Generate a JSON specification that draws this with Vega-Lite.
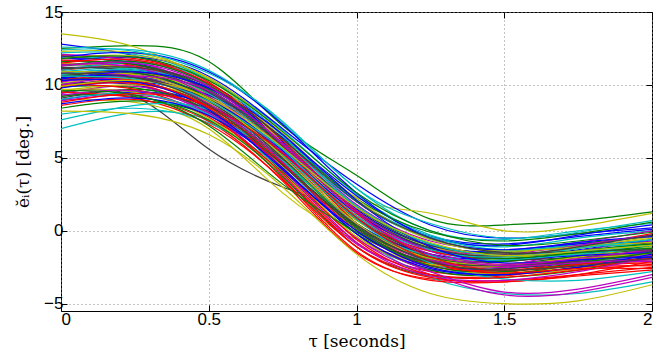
{
"$schema":"https://vega.github.io/schema/vega-lite/v6.json",
"width":591,"height":299,
"autosize":{"type":"none"},
"padding":{"left":61,"top":12,"right":16,"bottom":47},
"background":"white",
"config":{"view":{"stroke":"#000","strokeWidth":1},
 "axis":{"labelFont":"Liberation Sans","labelFontSize":17,"labelColor":"#000","titleFont":"DejaVu Serif, DejaVu Sans","titleFontSize":17,"titleFontWeight":"normal","titleColor":"#000","domainColor":"#000","tickColor":"#000","tickSize":-6,"labelPadding":4}},
"data":{"values":[
{"k":1,"t":0,"v":11.8},{"k":1,"t":0.25,"v":11.5},{"k":1,"t":0.5,"v":9.6},{"k":1,"t":0.75,"v":5.8},{"k":1,"t":1,"v":0.9},{"k":1,"t":1.25,"v":-1.7},{"k":1,"t":1.5,"v":-2.0},{"k":1,"t":1.75,"v":-1.6},{"k":1,"t":2,"v":-1.0},
{"k":2,"t":0,"v":12.5},{"k":2,"t":0.25,"v":12.7},{"k":2,"t":0.5,"v":11.6},{"k":2,"t":0.75,"v":7.2},{"k":2,"t":1,"v":3.8},{"k":2,"t":1.25,"v":0.8},{"k":2,"t":1.5,"v":0.4},{"k":2,"t":1.75,"v":0.7},{"k":2,"t":2,"v":1.3},
{"k":3,"t":0,"v":10.2},{"k":3,"t":0.25,"v":10.8},{"k":3,"t":0.5,"v":8.9},{"k":3,"t":0.75,"v":4.1},{"k":3,"t":1,"v":-0.8},{"k":3,"t":1.25,"v":-2.8},{"k":3,"t":1.5,"v":-2.9},{"k":3,"t":1.75,"v":-2.0},{"k":3,"t":2,"v":-1.6},
{"k":4,"t":0,"v":7.0},{"k":4,"t":0.25,"v":8.1},{"k":4,"t":0.5,"v":7.6},{"k":4,"t":0.75,"v":4.6},{"k":4,"t":1,"v":0.7},{"k":4,"t":1.25,"v":-1.4},{"k":4,"t":1.5,"v":-2.0},{"k":4,"t":1.75,"v":-1.5},{"k":4,"t":2,"v":-1.1},
{"k":5,"t":0,"v":10.6},{"k":5,"t":0.25,"v":10.1},{"k":5,"t":0.5,"v":8.0},{"k":5,"t":0.75,"v":4.9},{"k":5,"t":1,"v":0.8},{"k":5,"t":1.25,"v":-1.8},{"k":5,"t":1.5,"v":-2.4},{"k":5,"t":1.75,"v":-2.0},{"k":5,"t":2,"v":-1.4},
{"k":6,"t":0,"v":13.5},{"k":6,"t":0.25,"v":12.6},{"k":6,"t":0.5,"v":10.2},{"k":6,"t":0.75,"v":6.4},{"k":6,"t":1,"v":2.3},{"k":6,"t":1.25,"v":1.2},{"k":6,"t":1.5,"v":0.0},{"k":6,"t":1.75,"v":0.3},{"k":6,"t":2,"v":1.2},
{"k":7,"t":0,"v":9.5},{"k":7,"t":0.25,"v":9.2},{"k":7,"t":0.5,"v":5.6},{"k":7,"t":0.75,"v":3.0},{"k":7,"t":1,"v":0.9},{"k":7,"t":1.25,"v":-1.9},{"k":7,"t":1.5,"v":-2.3},{"k":7,"t":1.75,"v":-1.8},{"k":7,"t":2,"v":-1.4},
{"k":8,"t":0,"v":12.8},{"k":8,"t":0.25,"v":12.0},{"k":8,"t":0.5,"v":10.1},{"k":8,"t":0.75,"v":6.6},{"k":8,"t":1,"v":2.0},{"k":8,"t":1.25,"v":-0.4},{"k":8,"t":1.5,"v":-0.9},{"k":8,"t":1.75,"v":-0.4},{"k":8,"t":2,"v":0.1},
{"k":9,"t":0,"v":9.2},{"k":9,"t":0.25,"v":9.7},{"k":9,"t":0.5,"v":8.4},{"k":9,"t":0.75,"v":4.0},{"k":9,"t":1,"v":-0.2},{"k":9,"t":1.25,"v":-2.1},{"k":9,"t":1.5,"v":-2.4},{"k":9,"t":1.75,"v":-2.0},{"k":9,"t":2,"v":-1.3},
{"k":10,"t":0,"v":11.0},{"k":10,"t":0.25,"v":11.2},{"k":10,"t":0.5,"v":9.5},{"k":10,"t":0.75,"v":5.2},{"k":10,"t":1,"v":0.2},{"k":10,"t":1.25,"v":-2.5},{"k":10,"t":1.5,"v":-3.0},{"k":10,"t":1.75,"v":-2.5},{"k":10,"t":2,"v":-1.9},
{"k":11,"t":0,"v":12.2},{"k":11,"t":0.25,"v":12.1},{"k":11,"t":0.5,"v":10.4},{"k":11,"t":0.75,"v":6.9},{"k":11,"t":1,"v":2.5},{"k":11,"t":1.25,"v":-0.3},{"k":11,"t":1.5,"v":-1.1},{"k":11,"t":1.75,"v":-0.5},{"k":11,"t":2,"v":0.0},
{"k":12,"t":0,"v":9.8},{"k":12,"t":0.25,"v":10.4},{"k":12,"t":0.5,"v":8.7},{"k":12,"t":0.75,"v":4.4},{"k":12,"t":1,"v":-0.5},{"k":12,"t":1.25,"v":-2.4},{"k":12,"t":1.5,"v":-2.4},{"k":12,"t":1.75,"v":-1.4},{"k":12,"t":2,"v":-0.7},
{"k":13,"t":0,"v":9.0},{"k":13,"t":0.25,"v":8.8},{"k":13,"t":0.5,"v":7.0},{"k":13,"t":0.75,"v":2.6},{"k":13,"t":1,"v":-0.6},{"k":13,"t":1.25,"v":-2.4},{"k":13,"t":1.5,"v":-3.0},{"k":13,"t":1.75,"v":-2.6},{"k":13,"t":2,"v":-1.9},
{"k":14,"t":0,"v":10.9},{"k":14,"t":0.25,"v":10.6},{"k":14,"t":0.5,"v":8.8},{"k":14,"t":0.75,"v":5.1},{"k":14,"t":1,"v":1.1},{"k":14,"t":1.25,"v":-1.2},{"k":14,"t":1.5,"v":-1.8},{"k":14,"t":1.75,"v":-1.4},{"k":14,"t":2,"v":-0.9},
{"k":15,"t":0,"v":10.1},{"k":15,"t":0.25,"v":10.0},{"k":15,"t":0.5,"v":8.2},{"k":15,"t":0.75,"v":4.5},{"k":15,"t":1,"v":0.5},{"k":15,"t":1.25,"v":-1.6},{"k":15,"t":1.5,"v":-1.9},{"k":15,"t":1.75,"v":-1.3},{"k":15,"t":2,"v":-0.6},
{"k":16,"t":0,"v":11.4},{"k":16,"t":0.25,"v":11.0},{"k":16,"t":0.5,"v":9.1},{"k":16,"t":0.75,"v":5.6},{"k":16,"t":1,"v":1.6},{"k":16,"t":1.25,"v":-0.9},{"k":16,"t":1.5,"v":-1.5},{"k":16,"t":1.75,"v":-0.9},{"k":16,"t":2,"v":-0.4},
{"k":17,"t":0,"v":8.6},{"k":17,"t":0.25,"v":9.0},{"k":17,"t":0.5,"v":7.5},{"k":17,"t":0.75,"v":3.4},{"k":17,"t":1,"v":-1.5},{"k":17,"t":1.25,"v":-3.3},{"k":17,"t":1.5,"v":-3.4},{"k":17,"t":1.75,"v":-3.0},{"k":17,"t":2,"v":-2.5},
{"k":18,"t":0,"v":11.9},{"k":18,"t":0.25,"v":11.7},{"k":18,"t":0.5,"v":10.0},{"k":18,"t":0.75,"v":6.2},{"k":18,"t":1,"v":1.7},{"k":18,"t":1.25,"v":-1.1},{"k":18,"t":1.5,"v":-1.7},{"k":18,"t":1.75,"v":-1.1},{"k":18,"t":2,"v":-0.3},
{"k":19,"t":0,"v":9.4},{"k":19,"t":0.25,"v":9.9},{"k":19,"t":0.5,"v":8.1},{"k":19,"t":0.75,"v":3.8},{"k":19,"t":1,"v":-0.9},{"k":19,"t":1.25,"v":-2.7},{"k":19,"t":1.5,"v":-2.6},{"k":19,"t":1.75,"v":-1.9},{"k":19,"t":2,"v":-1.4},
{"k":20,"t":0,"v":10.5},{"k":20,"t":0.25,"v":10.9},{"k":20,"t":0.5,"v":9.2},{"k":20,"t":0.75,"v":5.3},{"k":20,"t":1,"v":0.7},{"k":20,"t":1.25,"v":-1.4},{"k":20,"t":1.5,"v":-1.6},{"k":20,"t":1.75,"v":-1.0},{"k":20,"t":2,"v":-0.9},
{"k":21,"t":0,"v":11.3},{"k":21,"t":0.25,"v":11.4},{"k":21,"t":0.5,"v":9.7},{"k":21,"t":0.75,"v":5.9},{"k":21,"t":1,"v":1.3},{"k":21,"t":1.25,"v":-1.3},{"k":21,"t":1.5,"v":-2.0},{"k":21,"t":1.75,"v":-1.8},{"k":21,"t":2,"v":-1.6},
{"k":22,"t":0,"v":9.0},{"k":22,"t":0.25,"v":9.5},{"k":22,"t":0.5,"v":8.6},{"k":22,"t":0.75,"v":5.0},{"k":22,"t":1,"v":0.3},{"k":22,"t":1.25,"v":-2.3},{"k":22,"t":1.5,"v":-2.6},{"k":22,"t":1.75,"v":-2.2},{"k":22,"t":2,"v":-1.9},
{"k":23,"t":0,"v":10.7},{"k":23,"t":0.25,"v":10.3},{"k":23,"t":0.5,"v":8.5},{"k":23,"t":0.75,"v":4.8},{"k":23,"t":1,"v":0.5},{"k":23,"t":1.25,"v":-2.0},{"k":23,"t":1.5,"v":-2.4},{"k":23,"t":1.75,"v":-1.8},{"k":23,"t":2,"v":-1.2},
{"k":24,"t":0,"v":12.0},{"k":24,"t":0.25,"v":11.8},{"k":24,"t":0.5,"v":10.2},{"k":24,"t":0.75,"v":5.8},{"k":24,"t":1,"v":0.5},{"k":24,"t":1.25,"v":-2.3},{"k":24,"t":1.5,"v":-2.7},{"k":24,"t":1.75,"v":-2.3},{"k":24,"t":2,"v":-2.1},
{"k":25,"t":0,"v":8.0},{"k":25,"t":0.25,"v":8.4},{"k":25,"t":0.5,"v":7.4},{"k":25,"t":0.75,"v":4.2},{"k":25,"t":1,"v":-0.2},{"k":25,"t":1.25,"v":-3.2},{"k":25,"t":1.5,"v":-4.3},{"k":25,"t":1.75,"v":-4.3},{"k":25,"t":2,"v":-3.5},
{"k":26,"t":0,"v":11.1},{"k":26,"t":0.25,"v":11.3},{"k":26,"t":0.5,"v":9.9},{"k":26,"t":0.75,"v":6.3},{"k":26,"t":1,"v":1.8},{"k":26,"t":1.25,"v":-0.7},{"k":26,"t":1.5,"v":-1.3},{"k":26,"t":1.75,"v":-0.8},{"k":26,"t":2,"v":0.0},
{"k":27,"t":0,"v":9.7},{"k":27,"t":0.25,"v":9.5},{"k":27,"t":0.5,"v":7.7},{"k":27,"t":0.75,"v":3.9},{"k":27,"t":1,"v":-0.4},{"k":27,"t":1.25,"v":-2.6},{"k":27,"t":1.5,"v":-2.9},{"k":27,"t":1.75,"v":-2.5},{"k":27,"t":2,"v":-2.0},
{"k":28,"t":0,"v":10.4},{"k":28,"t":0.25,"v":10.7},{"k":28,"t":0.5,"v":9.0},{"k":28,"t":0.75,"v":5.4},{"k":28,"t":1,"v":0.9},{"k":28,"t":1.25,"v":-1.6},{"k":28,"t":1.5,"v":-2.1},{"k":28,"t":1.75,"v":-1.5},{"k":28,"t":2,"v":-0.8},
{"k":29,"t":0,"v":11.6},{"k":29,"t":0.25,"v":11.9},{"k":29,"t":0.5,"v":10.6},{"k":29,"t":0.75,"v":7.0},{"k":29,"t":1,"v":3.2},{"k":29,"t":1.25,"v":0.4},{"k":29,"t":1.5,"v":-0.5},{"k":29,"t":1.75,"v":-0.2},{"k":29,"t":2,"v":0.2},
{"k":30,"t":0,"v":9.9},{"k":30,"t":0.25,"v":9.8},{"k":30,"t":0.5,"v":8.3},{"k":30,"t":0.75,"v":4.7},{"k":30,"t":1,"v":0.1},{"k":30,"t":1.25,"v":-2.2},{"k":30,"t":1.5,"v":-2.4},{"k":30,"t":1.75,"v":-1.7},{"k":30,"t":2,"v":-1.0},
{"k":31,"t":0,"v":10.3},{"k":31,"t":0.25,"v":10.1},{"k":31,"t":0.5,"v":8.0},{"k":31,"t":0.75,"v":3.6},{"k":31,"t":1,"v":-1.4},{"k":31,"t":1.25,"v":-3.4},{"k":31,"t":1.5,"v":-3.5},{"k":31,"t":1.75,"v":-3.0},{"k":31,"t":2,"v":-2.1},
{"k":32,"t":0,"v":12.4},{"k":32,"t":0.25,"v":12.4},{"k":32,"t":0.5,"v":11.0},{"k":32,"t":0.75,"v":7.4},{"k":32,"t":1,"v":2.9},{"k":32,"t":1.25,"v":0.0},{"k":32,"t":1.5,"v":-0.6},{"k":32,"t":1.75,"v":0.0},{"k":32,"t":2,"v":0.5},
{"k":33,"t":0,"v":8.9},{"k":33,"t":0.25,"v":9.3},{"k":33,"t":0.5,"v":8.0},{"k":33,"t":0.75,"v":4.3},{"k":33,"t":1,"v":-0.5},{"k":33,"t":1.25,"v":-3.0},{"k":33,"t":1.5,"v":-4.4},{"k":33,"t":1.75,"v":-4.2},{"k":33,"t":2,"v":-3.2},
{"k":34,"t":0,"v":11.5},{"k":34,"t":0.25,"v":11.1},{"k":34,"t":0.5,"v":9.3},{"k":34,"t":0.75,"v":5.5},{"k":34,"t":1,"v":1.4},{"k":34,"t":1.25,"v":-1.1},{"k":34,"t":1.5,"v":-1.6},{"k":34,"t":1.75,"v":-1.2},{"k":34,"t":2,"v":-0.5},
{"k":35,"t":0,"v":10.0},{"k":35,"t":0.25,"v":10.2},{"k":35,"t":0.5,"v":8.6},{"k":35,"t":0.75,"v":4.9},{"k":35,"t":1,"v":0.5},{"k":35,"t":1.25,"v":-1.8},{"k":35,"t":1.5,"v":-2.1},{"k":35,"t":1.75,"v":-1.6},{"k":35,"t":2,"v":-1.3},
{"k":36,"t":0,"v":10.8},{"k":36,"t":0.25,"v":11.0},{"k":36,"t":0.5,"v":9.8},{"k":36,"t":0.75,"v":6.1},{"k":36,"t":1,"v":1.5},{"k":36,"t":1.25,"v":-1.0},{"k":36,"t":1.5,"v":-1.4},{"k":36,"t":1.75,"v":-0.9},{"k":36,"t":2,"v":-0.8},
{"k":37,"t":0,"v":9.3},{"k":37,"t":0.25,"v":9.2},{"k":37,"t":0.5,"v":7.6},{"k":37,"t":0.75,"v":3.7},{"k":37,"t":1,"v":-1.1},{"k":37,"t":1.25,"v":-3.1},{"k":37,"t":1.5,"v":-3.2},{"k":37,"t":1.75,"v":-2.7},{"k":37,"t":2,"v":-1.7},
{"k":38,"t":0,"v":11.7},{"k":38,"t":0.25,"v":11.3},{"k":38,"t":0.5,"v":9.4},{"k":38,"t":0.75,"v":5.7},{"k":38,"t":1,"v":1.0},{"k":38,"t":1.25,"v":-1.4},{"k":38,"t":1.5,"v":-1.8},{"k":38,"t":1.75,"v":-1.1},{"k":38,"t":2,"v":-0.2},
{"k":39,"t":0,"v":10.9},{"k":39,"t":0.25,"v":11.1},{"k":39,"t":0.5,"v":9.6},{"k":39,"t":0.75,"v":6.0},{"k":39,"t":1,"v":2.0},{"k":39,"t":1.25,"v":-0.6},{"k":39,"t":1.5,"v":-1.4},{"k":39,"t":1.75,"v":-1.1},{"k":39,"t":2,"v":-1.0},
{"k":40,"t":0,"v":12.1},{"k":40,"t":0.25,"v":11.6},{"k":40,"t":0.5,"v":9.5},{"k":40,"t":0.75,"v":5.2},{"k":40,"t":1,"v":0.5},{"k":40,"t":1.25,"v":-2.0},{"k":40,"t":1.5,"v":-2.5},{"k":40,"t":1.75,"v":-2.0},{"k":40,"t":2,"v":-1.7},
{"k":41,"t":0,"v":9.6},{"k":41,"t":0.25,"v":10.0},{"k":41,"t":0.5,"v":8.8},{"k":41,"t":0.75,"v":5.0},{"k":41,"t":1,"v":0.2},{"k":41,"t":1.25,"v":-1.9},{"k":41,"t":1.5,"v":-1.9},{"k":41,"t":1.75,"v":-1.2},{"k":41,"t":2,"v":-0.4},
{"k":42,"t":0,"v":11.2},{"k":42,"t":0.25,"v":10.9},{"k":42,"t":0.5,"v":9.0},{"k":42,"t":0.75,"v":5.3},{"k":42,"t":1,"v":0.8},{"k":42,"t":1.25,"v":-1.8},{"k":42,"t":1.5,"v":-2.3},{"k":42,"t":1.75,"v":-1.9},{"k":42,"t":2,"v":-1.8},
{"k":43,"t":0,"v":10.5},{"k":43,"t":0.25,"v":10.6},{"k":43,"t":0.5,"v":9.3},{"k":43,"t":0.75,"v":6.4},{"k":43,"t":1,"v":2.4},{"k":43,"t":1.25,"v":-0.4},{"k":43,"t":1.5,"v":-1.0},{"k":43,"t":1.75,"v":-0.3},{"k":43,"t":2,"v":0.4},
{"k":44,"t":0,"v":8.4},{"k":44,"t":0.25,"v":8.9},{"k":44,"t":0.5,"v":7.9},{"k":44,"t":0.75,"v":4.5},{"k":44,"t":1,"v":-0.2},{"k":44,"t":1.25,"v":-2.7},{"k":44,"t":1.5,"v":-3.0},{"k":44,"t":1.75,"v":-2.3},{"k":44,"t":2,"v":-1.9},
{"k":45,"t":0,"v":10.0},{"k":45,"t":0.25,"v":9.7},{"k":45,"t":0.5,"v":7.8},{"k":45,"t":0.75,"v":3.9},{"k":45,"t":1,"v":-1.1},{"k":45,"t":1.25,"v":-3.2},{"k":45,"t":1.5,"v":-3.5},{"k":45,"t":1.75,"v":-3.1},{"k":45,"t":2,"v":-2.7},
{"k":46,"t":0,"v":11.0},{"k":46,"t":0.25,"v":11.5},{"k":46,"t":0.5,"v":10.3},{"k":46,"t":0.75,"v":6.5},{"k":46,"t":1,"v":2.1},{"k":46,"t":1.25,"v":-0.4},{"k":46,"t":1.5,"v":-1.3},{"k":46,"t":1.75,"v":-1.0},{"k":46,"t":2,"v":-1.0},
{"k":47,"t":0,"v":10.2},{"k":47,"t":0.25,"v":10.5},{"k":47,"t":0.5,"v":8.9},{"k":47,"t":0.75,"v":5.0},{"k":47,"t":1,"v":0.4},{"k":47,"t":1.25,"v":-2.1},{"k":47,"t":1.5,"v":-2.5},{"k":47,"t":1.75,"v":-2.2},{"k":47,"t":2,"v":-2.1},
{"k":48,"t":0,"v":12.3},{"k":48,"t":0.25,"v":12.2},{"k":48,"t":0.5,"v":10.4},{"k":48,"t":0.75,"v":6.0},{"k":48,"t":1,"v":1.1},{"k":48,"t":1.25,"v":-1.2},{"k":48,"t":1.5,"v":-1.8},{"k":48,"t":1.75,"v":-1.6},{"k":48,"t":2,"v":-1.6},
{"k":49,"t":0,"v":9.1},{"k":49,"t":0.25,"v":9.6},{"k":49,"t":0.5,"v":8.2},{"k":49,"t":0.75,"v":4.6},{"k":49,"t":1,"v":0.2},{"k":49,"t":1.25,"v":-2.2},{"k":49,"t":1.5,"v":-2.6},{"k":49,"t":1.75,"v":-2.1},{"k":49,"t":2,"v":-1.5},
{"k":50,"t":0,"v":11.9},{"k":50,"t":0.25,"v":12.2},{"k":50,"t":0.5,"v":10.9},{"k":50,"t":0.75,"v":7.3},{"k":50,"t":1,"v":2.6},{"k":50,"t":1.25,"v":-0.5},{"k":50,"t":1.5,"v":-1.3},{"k":50,"t":1.75,"v":-0.8},{"k":50,"t":2,"v":-0.4},
{"k":51,"t":0,"v":10.6},{"k":51,"t":0.25,"v":10.8},{"k":51,"t":0.5,"v":9.1},{"k":51,"t":0.75,"v":5.0},{"k":51,"t":1,"v":0.3},{"k":51,"t":1.25,"v":-1.9},{"k":51,"t":1.5,"v":-2.1},{"k":51,"t":1.75,"v":-1.4},{"k":51,"t":2,"v":-0.9},
{"k":52,"t":0,"v":9.5},{"k":52,"t":0.25,"v":9.1},{"k":52,"t":0.5,"v":7.3},{"k":52,"t":0.75,"v":3.5},{"k":52,"t":1,"v":-1.1},{"k":52,"t":1.25,"v":-3.0},{"k":52,"t":1.5,"v":-3.1},{"k":52,"t":1.75,"v":-2.5},{"k":52,"t":2,"v":-2.4},
{"k":53,"t":0,"v":7.6},{"k":53,"t":0.25,"v":8.6},{"k":53,"t":0.5,"v":8.3},{"k":53,"t":0.75,"v":5.2},{"k":53,"t":1,"v":0.8},{"k":53,"t":1.25,"v":-2.2},{"k":53,"t":1.5,"v":-3.3},{"k":53,"t":1.75,"v":-3.4},{"k":53,"t":2,"v":-2.8},
{"k":54,"t":0,"v":11.4},{"k":54,"t":0.25,"v":11.2},{"k":54,"t":0.5,"v":9.2},{"k":54,"t":0.75,"v":5.4},{"k":54,"t":1,"v":1.0},{"k":54,"t":1.25,"v":-1.2},{"k":54,"t":1.5,"v":-1.6},{"k":54,"t":1.75,"v":-1.0},{"k":54,"t":2,"v":-0.3},
{"k":55,"t":0,"v":10.1},{"k":55,"t":0.25,"v":10.4},{"k":55,"t":0.5,"v":8.6},{"k":55,"t":0.75,"v":4.4},{"k":55,"t":1,"v":-0.4},{"k":55,"t":1.25,"v":-2.3},{"k":55,"t":1.5,"v":-2.4},{"k":55,"t":1.75,"v":-1.8},{"k":55,"t":2,"v":-1.1},
{"k":56,"t":0,"v":12.0},{"k":56,"t":0.25,"v":11.4},{"k":56,"t":0.5,"v":9.6},{"k":56,"t":0.75,"v":6.0},{"k":56,"t":1,"v":1.6},{"k":56,"t":1.25,"v":-1.0},{"k":56,"t":1.5,"v":-1.6},{"k":56,"t":1.75,"v":-1.4},{"k":56,"t":2,"v":-1.4},
{"k":57,"t":0,"v":9.8},{"k":57,"t":0.25,"v":10.2},{"k":57,"t":0.5,"v":9.0},{"k":57,"t":0.75,"v":5.5},{"k":57,"t":1,"v":1.2},{"k":57,"t":1.25,"v":-1.2},{"k":57,"t":1.5,"v":-1.9},{"k":57,"t":1.75,"v":-1.7},{"k":57,"t":2,"v":-1.5},
{"k":58,"t":0,"v":11.3},{"k":58,"t":0.25,"v":11.6},{"k":58,"t":0.5,"v":10.0},{"k":58,"t":0.75,"v":6.3},{"k":58,"t":1,"v":2.2},{"k":58,"t":1.25,"v":-0.1},{"k":58,"t":1.5,"v":-0.7},{"k":58,"t":1.75,"v":-0.2},{"k":58,"t":2,"v":0.6},
{"k":59,"t":0,"v":10.4},{"k":59,"t":0.25,"v":10.3},{"k":59,"t":0.5,"v":8.4},{"k":59,"t":0.75,"v":4.3},{"k":59,"t":1,"v":-0.6},{"k":59,"t":1.25,"v":-3.0},{"k":59,"t":1.5,"v":-3.2},{"k":59,"t":1.75,"v":-2.7},{"k":59,"t":2,"v":-2.3},
{"k":60,"t":0,"v":9.0},{"k":60,"t":0.25,"v":9.4},{"k":60,"t":0.5,"v":8.0},{"k":60,"t":0.75,"v":4.8},{"k":60,"t":1,"v":0.5},{"k":60,"t":1.25,"v":-1.7},{"k":60,"t":1.5,"v":-2.0},{"k":60,"t":1.75,"v":-1.6},{"k":60,"t":2,"v":-1.2},
{"k":61,"t":0,"v":10.8},{"k":61,"t":0.25,"v":10.6},{"k":61,"t":0.5,"v":8.7},{"k":61,"t":0.75,"v":4.7},{"k":61,"t":1,"v":-0.2},{"k":61,"t":1.25,"v":-2.8},{"k":61,"t":1.5,"v":-4.2},{"k":61,"t":1.75,"v":-4.0},{"k":61,"t":2,"v":-3.0},
{"k":62,"t":0,"v":11.8},{"k":62,"t":0.25,"v":12.0},{"k":62,"t":0.5,"v":10.5},{"k":62,"t":0.75,"v":6.7},{"k":62,"t":1,"v":2.2},{"k":62,"t":1.25,"v":-0.6},{"k":62,"t":1.5,"v":-1.4},{"k":62,"t":1.75,"v":-1.1},{"k":62,"t":2,"v":-0.8},
{"k":63,"t":0,"v":10.3},{"k":63,"t":0.25,"v":10.5},{"k":63,"t":0.5,"v":8.9},{"k":63,"t":0.75,"v":5.0},{"k":63,"t":1,"v":0.5},{"k":63,"t":1.25,"v":-1.9},{"k":63,"t":1.5,"v":-2.4},{"k":63,"t":1.75,"v":-2.1},{"k":63,"t":2,"v":-1.9},
{"k":64,"t":0,"v":8.7},{"k":64,"t":0.25,"v":9.1},{"k":64,"t":0.5,"v":7.9},{"k":64,"t":0.75,"v":4.3},{"k":64,"t":1,"v":-0.2},{"k":64,"t":1.25,"v":-2.6},{"k":64,"t":1.5,"v":-3.0},{"k":64,"t":1.75,"v":-2.5},{"k":64,"t":2,"v":-1.8},
{"k":65,"t":0,"v":11.6},{"k":65,"t":0.25,"v":11.4},{"k":65,"t":0.5,"v":9.7},{"k":65,"t":0.75,"v":5.9},{"k":65,"t":1,"v":1.4},{"k":65,"t":1.25,"v":-1.2},{"k":65,"t":1.5,"v":-1.9},{"k":65,"t":1.75,"v":-1.5},{"k":65,"t":2,"v":-1.2},
{"k":66,"t":0,"v":9.9},{"k":66,"t":0.25,"v":10.1},{"k":66,"t":0.5,"v":8.5},{"k":66,"t":0.75,"v":4.6},{"k":66,"t":1,"v":0.0},{"k":66,"t":1.25,"v":-2.4},{"k":66,"t":1.5,"v":-2.8},{"k":66,"t":1.75,"v":-2.4},{"k":66,"t":2,"v":-2.2},
{"k":67,"t":0,"v":10.7},{"k":67,"t":0.25,"v":11.0},{"k":67,"t":0.5,"v":9.4},{"k":67,"t":0.75,"v":5.6},{"k":67,"t":1,"v":1.0},{"k":67,"t":1.25,"v":-1.3},{"k":67,"t":1.5,"v":-1.8},{"k":67,"t":1.75,"v":-1.2},{"k":67,"t":2,"v":-0.6},
{"k":68,"t":0,"v":9.3},{"k":68,"t":0.25,"v":9.6},{"k":68,"t":0.5,"v":8.1},{"k":68,"t":0.75,"v":4.2},{"k":68,"t":1,"v":-0.8},{"k":68,"t":1.25,"v":-3.1},{"k":68,"t":1.5,"v":-3.4},{"k":68,"t":1.75,"v":-2.8},{"k":68,"t":2,"v":-1.8},
{"k":69,"t":0,"v":10.9},{"k":69,"t":0.25,"v":10.7},{"k":69,"t":0.5,"v":9.0},{"k":69,"t":0.75,"v":5.1},{"k":69,"t":1,"v":0.5},{"k":69,"t":1.25,"v":-1.9},{"k":69,"t":1.5,"v":-2.3},{"k":69,"t":1.75,"v":-1.9},{"k":69,"t":2,"v":-1.6},
{"k":70,"t":0,"v":10.6},{"k":70,"t":0.25,"v":10.9},{"k":70,"t":0.5,"v":9.5},{"k":70,"t":0.75,"v":5.8},{"k":70,"t":1,"v":1.4},{"k":70,"t":1.25,"v":-1.2},{"k":70,"t":1.5,"v":-1.7},{"k":70,"t":1.75,"v":-1.1},{"k":70,"t":2,"v":-0.3},
{"k":71,"t":0,"v":10.4},{"k":71,"t":0.25,"v":10.9},{"k":71,"t":0.5,"v":9.8},{"k":71,"t":0.75,"v":6.6},{"k":71,"t":1,"v":2.1},{"k":71,"t":1.25,"v":-1.1},{"k":71,"t":1.5,"v":-2.2},{"k":71,"t":1.75,"v":-2.0},{"k":71,"t":2,"v":-1.8},
{"k":72,"t":0,"v":9.6},{"k":72,"t":0.25,"v":9.3},{"k":72,"t":0.5,"v":7.2},{"k":72,"t":0.75,"v":3.2},{"k":72,"t":1,"v":-0.1},{"k":72,"t":1.25,"v":-2.4},{"k":72,"t":1.5,"v":-2.8},{"k":72,"t":1.75,"v":-2.2},{"k":72,"t":2,"v":-1.5},
{"k":73,"t":0,"v":11.5},{"k":73,"t":0.25,"v":11.7},{"k":73,"t":0.5,"v":10.1},{"k":73,"t":0.75,"v":6.2},{"k":73,"t":1,"v":1.3},{"k":73,"t":1.25,"v":-1.8},{"k":73,"t":1.5,"v":-2.7},{"k":73,"t":1.75,"v":-2.3},{"k":73,"t":2,"v":-1.9},
{"k":74,"t":0,"v":12.6},{"k":74,"t":0.25,"v":12.3},{"k":74,"t":0.5,"v":10.8},{"k":74,"t":0.75,"v":7.5},{"k":74,"t":1,"v":2.9},{"k":74,"t":1.25,"v":0.5},{"k":74,"t":1.5,"v":-0.5},{"k":74,"t":1.75,"v":-0.1},{"k":74,"t":2,"v":0.7},
{"k":75,"t":0,"v":10.0},{"k":75,"t":0.25,"v":10.6},{"k":75,"t":0.5,"v":9.6},{"k":75,"t":0.75,"v":6.0},{"k":75,"t":1,"v":1.4},{"k":75,"t":1.25,"v":-1.4},{"k":75,"t":1.5,"v":-2.3},{"k":75,"t":1.75,"v":-1.9},{"k":75,"t":2,"v":-1.3},
{"k":76,"t":0,"v":8.2},{"k":76,"t":0.25,"v":8.0},{"k":76,"t":0.5,"v":6.6},{"k":76,"t":0.75,"v":3.0},{"k":76,"t":1,"v":-1.6},{"k":76,"t":1.25,"v":-4.3},{"k":76,"t":1.5,"v":-5.0},{"k":76,"t":1.75,"v":-4.8},{"k":76,"t":2,"v":-3.7},
{"k":77,"t":0,"v":11.1},{"k":77,"t":0.25,"v":11.2},{"k":77,"t":0.5,"v":9.9},{"k":77,"t":0.75,"v":6.3},{"k":77,"t":1,"v":2.0},{"k":77,"t":1.25,"v":-0.5},{"k":77,"t":1.5,"v":-1.5},{"k":77,"t":1.75,"v":-1.4},{"k":77,"t":2,"v":-1.3},
{"k":78,"t":0,"v":10.3},{"k":78,"t":0.25,"v":10.2},{"k":78,"t":0.5,"v":8.3},{"k":78,"t":0.75,"v":4.2},{"k":78,"t":1,"v":0.0},{"k":78,"t":1.25,"v":-2.5},{"k":78,"t":1.5,"v":-3.0},{"k":78,"t":1.75,"v":-2.5},{"k":78,"t":2,"v":-1.6},
{"k":79,"t":0,"v":11.8},{"k":79,"t":0.25,"v":11.9},{"k":79,"t":0.5,"v":10.3},{"k":79,"t":0.75,"v":6.8},{"k":79,"t":1,"v":2.6},{"k":79,"t":1.25,"v":0.0},{"k":79,"t":1.5,"v":-1.0},{"k":79,"t":1.75,"v":-0.7},{"k":79,"t":2,"v":-0.1},
{"k":80,"t":0,"v":8.8},{"k":80,"t":0.25,"v":9.4},{"k":80,"t":0.5,"v":8.5},{"k":80,"t":0.75,"v":5.3},{"k":80,"t":1,"v":0.9},{"k":80,"t":1.25,"v":-2.1},{"k":80,"t":1.5,"v":-2.9},{"k":80,"t":1.75,"v":-2.6},{"k":80,"t":2,"v":-2.6},
{"k":81,"t":0,"v":10.6},{"k":81,"t":0.25,"v":10.4},{"k":81,"t":0.5,"v":8.9},{"k":81,"t":0.75,"v":5.6},{"k":81,"t":1,"v":1.7},{"k":81,"t":1.25,"v":-0.9},{"k":81,"t":1.5,"v":-1.7},{"k":81,"t":1.75,"v":-1.4},{"k":81,"t":2,"v":-1.0},
{"k":82,"t":0,"v":11.3},{"k":82,"t":0.25,"v":11.5},{"k":82,"t":0.5,"v":9.9},{"k":82,"t":0.75,"v":5.9},{"k":82,"t":1,"v":1.2},{"k":82,"t":1.25,"v":-1.6},{"k":82,"t":1.5,"v":-2.4},{"k":82,"t":1.75,"v":-2.2},{"k":82,"t":2,"v":-2.0},
{"k":83,"t":0,"v":9.9},{"k":83,"t":0.25,"v":10.3},{"k":83,"t":0.5,"v":9.1},{"k":83,"t":0.75,"v":5.7},{"k":83,"t":1,"v":1.6},{"k":83,"t":1.25,"v":-0.8},{"k":83,"t":1.5,"v":-1.7},{"k":83,"t":1.75,"v":-1.4},{"k":83,"t":2,"v":-1.0},
{"k":84,"t":0,"v":10.8},{"k":84,"t":0.25,"v":10.5},{"k":84,"t":0.5,"v":8.6},{"k":84,"t":0.75,"v":4.5},{"k":84,"t":1,"v":0.4},{"k":84,"t":1.25,"v":-2.1},{"k":84,"t":1.5,"v":-2.7},{"k":84,"t":1.75,"v":-2.4},{"k":84,"t":2,"v":-1.9}
]},
"layer":[
{"mark":{"type":"line","interpolate":"natural","strokeWidth":1.2,"clip":true},
 "encoding":{
  "x":{"field":"t","type":"quantitative","scale":{"domain":[0,2],"nice":false,"zero":false},
   "axis":{"orient":"bottom","values":[0,0.5,1,1.5,2],"format":"~g","title":"τ [seconds]","titlePadding":6,"labelPadding":6,"grid":true,"gridDash":[1,3],"gridColor":"#888","gridOpacity":1,"domain":false}},
  "y":{"field":"v","type":"quantitative","scale":{"domain":[-5.5,15],"nice":false,"zero":false},
   "axis":{"orient":"left","values":[-5,0,5,10,15],"title":"ĕᵢ(τ) [deg.]","titleX":-38,"titleBaseline":"middle","grid":true,"gridDash":[1,3],"gridColor":"#888","gridOpacity":1,"domain":false}},
  "color":{"field":"k","type":"nominal","legend":null,"scale":{"range":["#0000FF","#008000","#FF0000","#00BFBF","#BF00BF","#BFBF00","#404040"]}}
 }},
{"mark":{"type":"point","opacity":0},
 "encoding":{
  "x":{"field":"t","type":"quantitative","scale":{"domain":[0,2],"nice":false,"zero":false},
   "axis":{"orient":"top","values":[0,0.5,1,1.5,2],"labels":false,"title":null,"grid":false,"domain":false}},
  "y":{"field":"v","type":"quantitative","scale":{"domain":[-5.5,15],"nice":false,"zero":false},
   "axis":{"orient":"right","values":[-5,0,5,10,15],"labels":false,"title":null,"grid":false,"domain":false}}
 }}
],
"resolve":{"axis":{"x":"independent","y":"independent"}}
}
